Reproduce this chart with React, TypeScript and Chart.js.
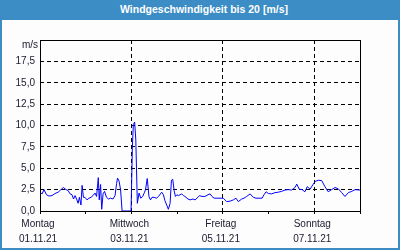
import React, { useEffect, useRef } from "react";
import { Chart, registerables } from "chart.js";

Chart.register(...registerables);

// Hours since 01.11.21 00:00
const hours: number[] = [
  0.0, 1.1, 2.1, 3.4, 4.7, 6.3, 7.9, 9.5, 11.0, 12.3, 13.7, 14.7, 15.8, 16.8, 17.6, 18.4, 19.2, 20.0, 20.7, 21.5,
  22.1, 22.8, 23.6, 24.7, 25.7, 26.8, 27.8, 28.9, 29.7, 30.6, 31.1, 31.8, 32.4, 33.1, 33.9, 34.9, 36.0, 37.0, 38.3, 39.4,
  40.2, 40.7, 41.5, 42.3, 43.1, 47.8, 48.5, 49.0, 49.7, 50.3, 51.1, 52.0, 52.9, 53.9, 54.9, 55.4, 56.3, 57.2, 58.0, 58.8,
  59.9, 61.2, 62.2, 63.9, 64.8, 65.6, 66.7, 67.4, 68.3, 69.0, 69.7, 70.4, 71.1, 71.9, 72.7, 74.4, 75.3, 76.1, 77.7, 78.8,
  80.3, 81.4, 82.9, 83.7, 85.1, 86.6, 88.2, 89.3, 90.3, 91.4, 92.9, 94.5, 96.2, 98.0, 99.8, 101.5, 102.9, 104.1, 105.9, 107.1,
  108.5, 110.3, 112.0, 113.4, 115.0, 116.6, 117.6, 118.7, 119.9, 121.6, 123.4, 125.1, 126.9, 128.6, 130.4, 132.1, 133.9, 134.8, 136.1, 137.6,
  139.1, 140.3, 141.8, 143.2, 144.4, 146.1, 147.9, 149.6, 151.3, 153.1, 154.9, 156.6, 158.4, 160.1, 161.9, 163.7, 165.4, 168.0,
];

// Wind speed in m/s
const windSpeed: number[] = [
  2.2, 2.0, 2.5, 1.9, 1.75, 1.8, 2.05, 2.2, 2.5, 2.75, 2.5, 2.4, 2.0, 1.9, 1.4, 1.8, 1.4, 0.9, 1.6, 0.7,
  3.0, 1.6, 1.6, 1.3, 1.5, 1.6, 1.8, 2.1, 1.7, 3.9, 1.3, 3.1, 0.2, 2.0, 2.3, 1.6, 1.4, 1.5, 1.4, 1.8,
  3.2, 3.85, 3.5, 2.5, 0.0, 0.0, 7.5, 10.1, 10.4, 8.3, 0.9, 2.1, 1.5, 1.7, 2.2, 2.5, 3.8, 1.7, 1.3, 1.6,
  1.6, 1.5, 1.7, 2.2, 1.9, 1.2, 0.6, 0.2, 0.9, 3.6, 3.7, 2.4, 1.7, 1.9, 1.8, 2.0, 1.8, 1.7, 1.4, 1.3,
  1.4, 1.3, 1.6, 1.8, 1.7, 1.7, 1.9, 2.0, 1.7, 1.5, 1.5, 1.5, 1.5, 1.1, 1.15, 1.3, 1.5, 1.1, 1.4, 1.5,
  1.7, 2.0, 1.6, 1.5, 1.5, 1.5, 1.9, 2.25, 2.05, 2.0, 2.15, 2.2, 2.3, 2.45, 2.5, 2.45, 2.75, 3.15, 2.55, 2.5,
  2.25, 2.85, 2.55, 3.05, 3.45, 3.6, 3.55, 2.85, 2.25, 2.5, 2.75, 2.6, 2.15, 1.7, 2.15, 2.3, 2.5, 2.45,
];

const dayNames: string[] = ["Montag", "Dienstag", "Mittwoch", "Donnerstag", "Freitag", "Samstag", "Sonntag"];
const dayDates: string[] = ["01.11.21", "02.11.21", "03.11.21", "04.11.21", "05.11.21", "06.11.21", "07.11.21"];
const yMax = 20;
const yStep = 2.5;
const unitLabel = "m/s";
const title = "Windgeschwindigkeit bis 20 [m/s]";

const FONT = "'Liberation Sans', Arial, sans-serif";

export default function App() {
  const ref = useRef<HTMLCanvasElement | null>(null);

  useEffect(() => {
    document.body.style.margin = "0";
    const canvas = ref.current;
    if (!canvas) return;

    const framePlugin = {
      id: "frame",
      afterDatasetsDraw(chart: any) {
        const { ctx, chartArea } = chart;
        ctx.save();
        ctx.setLineDash([]);
        ctx.strokeStyle = "#000";
        ctx.lineWidth = 1;
        const l = Math.floor(chartArea.left) + 0.5;
        const t = Math.floor(chartArea.top) + 0.5;
        const r = Math.floor(chartArea.right) + 0.5;
        const b = Math.floor(chartArea.bottom) + 0.5;
        ctx.strokeRect(l, t, r - l, b - t);
        ctx.fillStyle = "#1a1a2e";
        ctx.font = `10px ${FONT}`;
        ctx.textAlign = "right";
        ctx.textBaseline = "middle";
        ctx.fillText(unitLabel, chartArea.left - 2, chartArea.top + 5.5);
        ctx.restore();
      },
    };

    const chart = new Chart(canvas, {
      type: "line",
      data: {
        datasets: [
          {
            data: hours.map((h, i) => ({ x: h, y: windSpeed[i] })),
            borderColor: "#0000ff",
            borderWidth: 1,
            pointRadius: 0,
            tension: 0,
            fill: false,
          },
        ],
      },
      options: {
        animation: false,
        responsive: false,
        devicePixelRatio: 1,
        layout: { padding: { left: 0, right: 38, top: 20, bottom: 0 } },
        plugins: { legend: { display: false }, tooltip: { enabled: false }, title: { display: false } },
        scales: {
          x: {
            type: "linear",
            min: 0,
            max: 168,
            afterFit: (s: any) => {
              s.height = 37;
            },
            ticks: {
              stepSize: 24,
              autoSkip: false,
              maxRotation: 0,
              padding: 3,
              labelOffset: -2,
              color: "#1a1a2e",
              font: { family: FONT, size: 10, lineHeight: 1.45 },
              callback: (v: any) => {
                const n = Number(v);
                if (n % 48 === 0 && n < 168) {
                  const d = n / 24;
                  return [dayNames[d], dayDates[d]];
                }
                return "";
              },
            },
            grid: {
              drawTicks: true,
              tickLength: 3,
              tickColor: "#000",
              tickBorderDash: [],
              color: (c: any) => {
                const v = c.tick ? c.tick.value : 0;
                return v % 48 === 0 && v > 0 && v < 168 ? "#000" : "rgba(0,0,0,0)";
              },
            },
            border: { display: false, dash: [4, 3] },
          },
          y: {
            min: 0,
            max: yMax,
            afterFit: (s: any) => {
              s.width = 38;
            },
            ticks: {
              stepSize: yStep,
              padding: 5,
              color: "#1a1a2e",
              font: { family: FONT, size: 10 },
              callback: (v: any) => {
                const n = Number(v);
                if (n >= yMax) return "";
                return n.toFixed(1).replace(".", ",");
              },
            },
            grid: {
              drawTicks: false,
              color: (c: any) => {
                const v = c.tick ? c.tick.value : 0;
                return v > 0 && v < yMax ? "#000" : "rgba(0,0,0,0)";
              },
            },
            border: { display: false, dash: [4, 3] },
          },
        },
      },
      plugins: [framePlugin],
    });
    return () => chart.destroy();
  }, []);

  return (
    <div style={{ position: "relative", width: 400, height: 250, background: "#3c8dc5", overflow: "hidden" }}>
      <div
        style={{
          position: "absolute",
          left: 0,
          top: 0,
          width: 400,
          height: 20,
          lineHeight: "19px",
          textAlign: "center",
          color: "#fff",
          fontFamily: FONT,
          fontWeight: "bold",
          fontSize: "10.5px",
          paddingLeft: 8,
          boxSizing: "border-box",
        }}
      >
        {title}
      </div>
      <div style={{ position: "absolute", left: 2, top: 20, width: 396, height: 228, background: "#fcfdfc" }}>
        <canvas ref={ref} width={396} height={228} style={{ display: "block" }} />
      </div>
    </div>
  );
}
